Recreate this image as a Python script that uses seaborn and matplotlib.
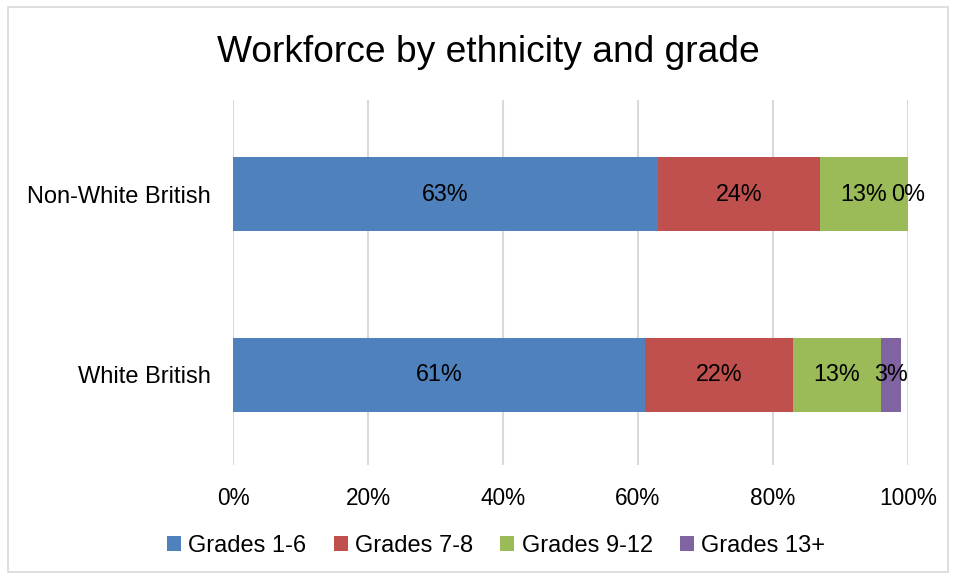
import matplotlib
matplotlib.use("Agg")
import matplotlib.pyplot as plt
import seaborn as sns
import pandas as pd
import numpy as np
from matplotlib.patches import Patch, Rectangle

categories = ["Non-White British", "White British"]
series_names = ["Grades 1-6", "Grades 7-8", "Grades 9-12", "Grades 13+"]
grades_1_6 = [63, 61]
grades_7_8 = [24, 22]
grades_9_12 = [13, 13]
grades_13p = [0, 3]
colors = ["#4F81BD", "#C0504D", "#9BBB59", "#8064A2"]
x_ticks = [0, 20, 40, 60, 80, 100]

sns.set_theme(style="white")
plt.rcParams["font.family"] = ["Liberation Sans", "DejaVu Sans"]
plt.rcParams["text.color"] = "black"
plt.rcParams["xtick.color"] = "black"
plt.rcParams["ytick.color"] = "black"

vals = np.array([grades_1_6, grades_7_8, grades_9_12, grades_13p], dtype=float)
cum = np.cumsum(vals, axis=0)

fig = plt.figure(figsize=(9.56, 5.79), dpi=100)
ax = fig.add_axes([0.2437, 0.197, 0.706, 0.63])

for i in range(len(series_names) - 1, -1, -1):
    df = pd.DataFrame({"cat": categories, "val": cum[i]})
    sns.barplot(data=df, x="val", y="cat", orient="h", color=colors[i],
                width=0.41, ax=ax, saturation=1, edgecolor="none", linewidth=0)

for i in range(len(series_names)):
    for j in range(len(categories)):
        center = cum[i, j] - vals[i, j] / 2
        ax.text(center, j, f"{int(vals[i, j])}%", ha="center", va="center",
                fontsize=16.8, color="black")

ax.set_xlim(0, 100)
ax.set_ylim(1.5, -0.52)
ax.set_xticks(x_ticks)
ax.set_xticklabels([f"{t}%" for t in x_ticks], fontsize=16.3)
ax.tick_params(axis="x", length=0, pad=16, colors="black")
ax.tick_params(axis="y", length=0, pad=16, labelsize=17, colors="black")
ax.set_xlabel("")
ax.set_ylabel("")
ax.xaxis.grid(True, color="#D9D9D9", linewidth=1.5)
ax.set_axisbelow(True)
for s in ax.spines.values():
    s.set_visible(False)

fig.suptitle("Workforce by ethnicity and grade", fontsize=26.7, y=0.94, x=0.511,
             color="black")

handles = [Patch(facecolor=c, edgecolor="none") for c in colors]
fig.legend(handles, series_names, loc="center", bbox_to_anchor=(0.519, 0.057),
           ncol=4, frameon=False, fontsize=17, handlelength=0.6, handleheight=0.6,
           handletextpad=0.3, columnspacing=1.15)

fig.patches.append(Rectangle((8 / 956, 7 / 579), 940 / 956, 565 / 579,
                             transform=fig.transFigure, fill=False,
                             edgecolor="#D9D9D9", linewidth=1.2))

fig.savefig("out.png", dpi=100)
